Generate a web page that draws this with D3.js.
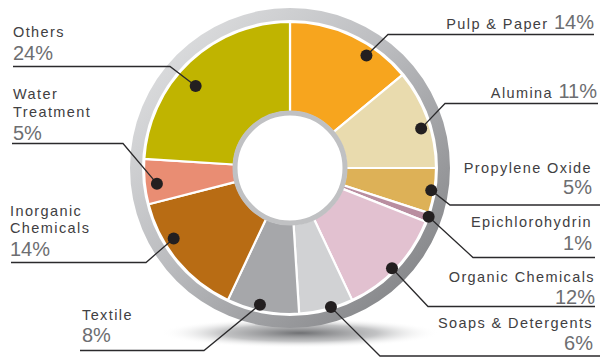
<!DOCTYPE html>
<html>
<head>
<meta charset="utf-8">
<script src="https://cdn.jsdelivr.net/npm/d3@7"></script>
<style>
  html, body { margin: 0; padding: 0; background: #fff; }
  svg { display: block; }
  .name { font-family: "Liberation Sans", Arial, sans-serif; font-size: 14.5px; fill: #414042; letter-spacing: 1.4px; }
  .pct { font-family: "Liberation Sans", Arial, sans-serif; font-size: 20px; fill: #6d6e71; }
</style>
</head>
<body>
<svg class="chart" width="600" height="358"></svg>
<script>
// data (clockwise from 12 o'clock)
const categories = ['Pulp & Paper', 'Alumina', 'Propylene Oxide', 'Epichlorohydrin', 'Organic Chemicals',
  'Soaps & Detergents', 'Textile', 'Inorganic Chemicals', 'Water Treatment', 'Others'];
const shares = [14, 11, 5, 1, 12, 6, 8, 14, 5, 24];
const sliceColors = ['#f7a51e', '#e9dbae', '#ddb157', '#b98ea0', '#e2c1d0',
  '#d1d2d4', '#a6a7aa', '#b86c14', '#e98d73', '#c0b400'];

// label placement: side, text x, text lines (baselines), elbow of leader, far end of underline,
// dot radius and small angle nudge (deg) from slice middle
const labelLayout = [
  { side: 'r', x: 594, lines: [['Pulp & Paper ', 29, '14%']], elbow: [388, 34.5], end: 594, dotR: 136, nudge: 9 },
  { side: 'r', x: 597, lines: [['Alumina ', 97.5, '11%']], elbow: [445, 103.5], end: 598, dotR: 137, nudge: 3 },
  { side: 'r', x: 592, lines: [['Propylene Oxide', 173], [null, 193.5, '5%']], elbow: [450, 205], end: 600, dotR: 143, nudge: 0 },
  { side: 'r', x: 592, lines: [['Epichlorohydrin', 226.5], [null, 250, '1%']], elbow: [473, 257.5], end: 595, dotR: 147, nudge: -0.4 },
  { side: 'r', x: 595, lines: [['Organic Chemicals', 281.5], [null, 304, '12%']], elbow: [428, 306.5], end: 595, dotR: 143, nudge: 1.3 },
  { side: 'r', x: 593, lines: [['Soaps & Detergents', 327.5], [null, 350, '6%']], elbow: [380, 356], end: 600, dotR: 145, nudge: -2 },
  { side: 'l', x: 82, lines: [['Textile', 319.5], [null, 342, '8%']], elbow: [204, 350.5], end: 80, dotR: 140, nudge: 1.6 },
  { side: 'l', x: 10, lines: [['Inorganic', 216], ['Chemicals', 233], [null, 256, '14%']], elbow: [146, 262.5], end: 11, dotR: 136, nudge: 8.4 },
  { side: 'l', x: 13, lines: [['Water', 98.5], ['Treatment', 117], [null, 139.5, '5%']], elbow: [123, 143.5], end: 12, dotR: 134, nudge: -1.3 },
  { side: 'l', x: 13, lines: [['Others', 37], [null, 60, '24%']], elbow: [170, 66.5], end: 13, dotR: 125, nudge: -5.8 },
];

const cx = 290, cy = 168;
const rIn = 56, rOut = 146;

const svg = d3.select('svg.chart');
const defs = svg.append('defs');

const shadowGrad = defs.append('radialGradient').attr('id', 'shadow');
shadowGrad.append('stop').attr('offset', '0%').attr('stop-color', '#6f7073').attr('stop-opacity', 1);
shadowGrad.append('stop').attr('offset', '55%').attr('stop-color', '#a7a8aa').attr('stop-opacity', 0.7);
shadowGrad.append('stop').attr('offset', '100%').attr('stop-color', '#ffffff').attr('stop-opacity', 0);

const ringGrad = defs.append('linearGradient').attr('id', 'ring')
  .attr('x1', '0%').attr('y1', '0%').attr('x2', '100%').attr('y2', '100%');
ringGrad.append('stop').attr('offset', '0%').attr('stop-color', '#e6e7e8');
ringGrad.append('stop').attr('offset', '45%').attr('stop-color', '#bcbdc0');
ringGrad.append('stop').attr('offset', '100%').attr('stop-color', '#77787b');

// floor shadow
svg.append('ellipse')
  .attr('cx', 300).attr('cy', 333)
  .attr('rx', 140).attr('ry', 15)
  .style('fill', 'url(#shadow)');

const g = svg.append('g').attr('transform', `translate(${cx},${cy})`);

// outer ring
g.append('path')
  .attr('d', d3.arc().innerRadius(148).outerRadius(160).startAngle(0).endAngle(2 * Math.PI)())
  .style('fill', 'url(#ring)');

const pie = d3.pie().sort(null).value(d => d);
const arcs = pie(shares);
const arc = d3.arc().innerRadius(rIn).outerRadius(rOut);

g.selectAll('path.slice')
  .data(arcs)
  .enter()
  .append('path')
  .classed('slice', true)
  .attr('d', arc)
  .style('fill', (d, i) => sliceColors[i])
  .style('stroke', '#fff')
  .style('stroke-width', 2.2)
  .style('stroke-linejoin', 'round');

// centre hole
g.append('circle')
  .attr('r', rIn - 1)
  .style('fill', '#fff')
  .style('stroke', '#c0c1c3')
  .style('stroke-width', 5);

// dots + leaders
const dotPos = (d, i) => {
  const a = (d.startAngle + d.endAngle) / 2 + labelLayout[i].nudge * Math.PI / 180;
  const r = labelLayout[i].dotR;
  return [cx + r * Math.sin(a), cy - r * Math.cos(a)];
};

svg.selectAll('polyline.leader')
  .data(arcs)
  .enter()
  .append('polyline')
  .classed('leader', true)
  .attr('points', (d, i) => {
    const p = dotPos(d, i);
    const L = labelLayout[i];
    return [p, L.elbow, [L.end, L.elbow[1]]].map(q => q.join(',')).join(' ');
  })
  .style('fill', 'none')
  .style('stroke', '#2b2a2c')
  .style('stroke-width', 1.3);

svg.selectAll('circle.dot')
  .data(arcs)
  .enter()
  .append('circle')
  .classed('dot', true)
  .attr('cx', (d, i) => dotPos(d, i)[0])
  .attr('cy', (d, i) => dotPos(d, i)[1])
  .attr('r', 6)
  .style('fill', '#231f20');

// labels
const label = svg.selectAll('g.label')
  .data(labelLayout)
  .enter()
  .append('g')
  .classed('label', true);

label.each(function (L) {
  const grp = d3.select(this);
  L.lines.forEach((ln) => {
    const t = grp.append('text')
      .attr('x', L.x)
      .attr('y', ln[1])
      .attr('text-anchor', L.side === 'r' ? 'end' : 'start');
    if (ln[0]) t.append('tspan').classed('name', true).text(ln[0]);
    if (ln[2]) t.append('tspan').classed('pct', true).text(ln[2]);
  });
});
</script>
</body>
</html>
